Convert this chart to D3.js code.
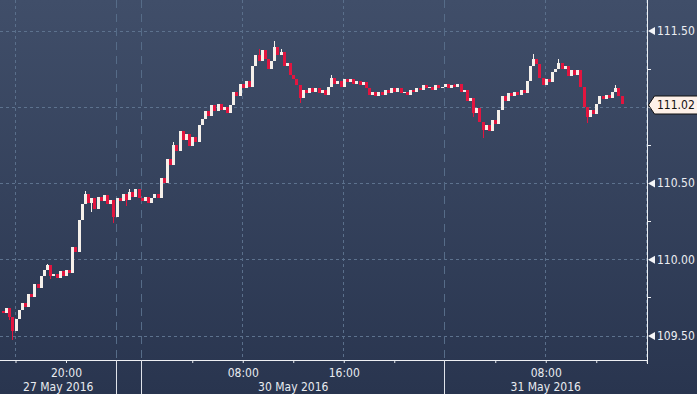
<!DOCTYPE html>
<html>
<head>
<meta charset="utf-8">
<script src="https://cdn.jsdelivr.net/npm/d3@7"></script>
<style>
html, body { margin: 0; padding: 0; background: #2b3854; }
svg { display: block; }
text { font-family: "DejaVu Sans Condensed", "DejaVu Sans", sans-serif; font-stretch: condensed; }
</style>
</head>
<body>
<div id="chart"></div>
<script>
const width = 697, height = 394;

// 15 minute candles, first one at Fri 15:00, open of the next = close of the previous
const firstOpen = 109.66;
const closes = [
	109.645, 109.68, 109.62, 109.53, 109.61, 109.67, 109.71, 109.69, 109.77, 109.75, 109.84, 109.81, 109.89, 109.93, 109.96, 109.89,
	109.90, 109.88, 109.92, 109.89, 109.93, 109.91, 110.08, 110.05, 110.26, 110.36, 110.43, 110.37, 110.40, 110.33, 110.41, 110.38,
	110.42, 110.36, 110.39, 110.28, 110.40, 110.38, 110.43, 110.39, 110.44, 110.41, 110.46, 110.40, 110.38, 110.41, 110.37, 110.40,
	110.43, 110.40, 110.53, 110.50, 110.66, 110.62, 110.75, 110.71, 110.84, 110.78, 110.82, 110.74, 110.80, 110.77, 110.88, 110.92,
	110.97, 110.94, 111.01, 110.97, 111.02, 110.98, 111.00, 110.96, 111.01, 111.10, 111.07, 111.15, 111.12, 111.17, 111.13, 111.27,
	111.34, 111.30, 111.37, 111.31, 111.25, 111.30, 111.39, 111.34, 111.36, 111.27, 111.29, 111.21, 111.18, 111.14, 111.06, 111.11,
	111.09, 111.12, 111.10, 111.12, 111.09, 111.11, 111.08, 111.13, 111.19, 111.15, 111.17, 111.13, 111.18, 111.16, 111.18, 111.15,
	111.17, 111.14, 111.16, 111.12, 111.08, 111.10, 111.07, 111.10, 111.08, 111.11, 111.09, 111.12, 111.10, 111.12, 111.09, 111.10,
	111.08, 111.11, 111.10, 111.12, 111.11, 111.14, 111.12, 111.13, 111.11, 111.14, 111.12, 111.13, 111.15, 111.12, 111.14, 111.13,
	111.15, 111.10, 111.11, 111.04, 111.06, 110.96, 110.99, 110.90, 110.85, 110.88, 110.84, 110.91, 110.89, 110.98, 111.07, 111.04,
	111.09, 111.07, 111.10, 111.08, 111.11, 111.09, 111.17, 111.27, 111.31, 111.28, 111.19, 111.14, 111.18, 111.16, 111.23, 111.25,
	111.29, 111.25, 111.27, 111.20, 111.24, 111.21, 111.24, 111.13, 111.00, 110.93, 110.98, 110.95, 111.02, 111.07, 111.05, 111.08,
	111.06, 111.10, 111.12, 111.07, 111.02
];
// wicks that stick out of the bodies: [candle index, price]
const wickHighs = [[14, 109.97], [26, 110.45], [40, 110.46], [54, 110.77], [81, 111.38], [86, 111.434], [88, 111.38], [104, 111.21], [143, 111.15], [168, 111.349], [176, 111.316], [194, 111.14]];
const wickLows = [[2, 109.60], [3, 109.47], [15, 109.87], [28, 110.31], [35, 110.237], [39, 110.35], [94, 111.026], [149, 110.93], [152, 110.796], [185, 110.895]];
const startHour = -1, stepHour = 0.25;
const lastPrice = 111.02;

const priceTicks = [109.5, 110, 110.5, 111, 111.5];
const priceLabels = ["109.50", "110.00", "110.50", "", "111.50"];
const minorPriceTicks = [109.75, 110.25, 110.75, 111.25];
// trading hours counted from Fri 16:00, the weekend kept as 2 hours
const tickHours = [0, 4, 14, 18, 22, 26, 30, 38, 42, 46, 50];
const labelHours = [4, 18, 26, 42];
const timeLabels = ["20:00", "08:00", "16:00", "08:00"];
const gridHours = [0, 18, 26, 42];
const dayBounds = [8, 10, 34];
const dayLabels = ["27 May 2016", "30 May 2016", "31 May 2016"];
const daySpans = [[-1.23, 8], [10, 34], [34, 50]];

const plotBottom = 360, plotRight = 647;

const x = d3.scaleLinear().domain([0, 50]).range([15.5, 646.75]);
const y = d3.scaleLinear().domain([109.5, 111.5]).range([335.5, 30.5]);

const svg = d3.select("#chart")
	.append("svg")
	.attr("width", width)
	.attr("height", height);

// background
const grad = svg.append("defs")
	.append("linearGradient")
		.attr("id", "bg")
		.attr("x1", 0).attr("y1", 0)
		.attr("x2", 0).attr("y2", 1);
grad.append("stop").attr("offset", "0%").attr("stop-color", "#404e69");
grad.append("stop").attr("offset", "100%").attr("stop-color", "#29354f");

svg.append("rect")
	.attr("width", width)
	.attr("height", height)
	.attr("fill", "url(#bg)");

// grid
const grid = svg.append("g")
	.attr("class", "grid")
	.attr("shape-rendering", "crispEdges");

grid.selectAll("line.h")
	.data(priceTicks)
	.join("line")
		.attr("class", "h")
		.attr("x1", 0)
		.attr("x2", plotRight)
		.attr("y1", d => Math.round(y(d)) + 0.5)
		.attr("y2", d => Math.round(y(d)) + 0.5)
		.attr("stroke", "#5d728e")
		.attr("stroke-dasharray", "3,3");

grid.selectAll("line.v")
	.data(gridHours.concat([50]))
	.join("line")
		.attr("class", "v")
		.attr("x1", d => Math.round(x(d)) - 0.5)
		.attr("x2", d => Math.round(x(d)) - 0.5)
		.attr("y1", 0)
		.attr("y2", plotBottom)
		.attr("stroke", "#5a6f8b")
		.attr("stroke-dasharray", "3,3");

grid.selectAll("line.day")
	.data(dayBounds)
	.join("line")
		.attr("class", "day")
		.attr("x1", d => Math.round(x(d)) - 0.5)
		.attr("x2", d => Math.round(x(d)) - 0.5)
		.attr("y1", 0)
		.attr("y2", plotBottom)
		.attr("stroke", "#566c88")
		.attr("stroke-dasharray", "8,6");

// candles
const candles = closes.map((c, i) => {
	const o = i ? closes[i - 1] : firstOpen;
	return { h: startHour + i * stepHour, o: o, c: c, hi: Math.max(o, c), lo: Math.min(o, c) };
});
wickHighs.forEach(([i, p]) => { candles[i].hi = Math.max(candles[i].hi, p); });
wickLows.forEach(([i, p]) => { candles[i].lo = Math.min(candles[i].lo, p); });

const gCandles = svg.append("g")
	.attr("class", "candles")
	.attr("shape-rendering", "crispEdges");

const candle = gCandles.selectAll("g")
	.data(candles)
	.join("g")
		.attr("fill", d => d.c >= d.o ? "#f5f0ea" : "#e2153f");

candle.append("rect")
	.attr("x", d => Math.round(x(d.h)))
	.attr("width", 1)
	.attr("y", d => Math.round(y(d.hi)))
	.attr("height", d => Math.max(1, Math.round(y(d.lo)) - Math.round(y(d.hi))));

candle.append("rect")
	.attr("x", d => Math.round(x(d.h)) - 1)
	.attr("width", 3)
	.attr("y", d => Math.round(y(Math.max(d.o, d.c))))
	.attr("height", d => Math.max(1, Math.round(y(Math.min(d.o, d.c))) - Math.round(y(Math.max(d.o, d.c)))));

// bottom axis
const xAxis = svg.append("g")
	.attr("transform", "translate(0," + plotBottom + ")")
	.call(d3.axisBottom(x)
		.tickValues(tickHours)
		.tickSize(3)
		.tickSizeOuter(0)
		.tickPadding(5)
		.tickFormat(d => {
			const k = labelHours.indexOf(d);
			return k < 0 ? "" : timeLabels[k];
		}));

xAxis.select(".domain").remove();
xAxis.selectAll(".tick line").attr("stroke", "#e8ebf0");
xAxis.selectAll(".tick text")
	.attr("fill", "#e8ebf0")
	.attr("font-size", 12)
	.attr("font-family", null);

svg.append("line")
	.attr("x1", 0)
	.attr("x2", plotRight + 0.5)
	.attr("y1", plotBottom + 0.5)
	.attr("y2", plotBottom + 0.5)
	.attr("stroke", "#eef0f4");

svg.selectAll("line.daysep")
	.data(dayBounds)
	.join("line")
		.attr("class", "daysep")
		.attr("x1", d => Math.round(x(d)) - 0.5)
		.attr("x2", d => Math.round(x(d)) - 0.5)
		.attr("y1", plotBottom)
		.attr("y2", height)
		.attr("stroke", "#dfe3ea");

svg.selectAll("text.day")
	.data(dayLabels)
	.join("text")
		.attr("class", "day")
		.attr("x", (d, i) => Math.max(0, (x(daySpans[i][0]) + x(daySpans[i][1])) / 2))
		.attr("y", 391)
		.attr("text-anchor", "middle")
		.attr("fill", "#e8ebf0")
		.attr("font-size", 12)
		.text(d => d);

// right axis
svg.append("line")
	.attr("x1", plotRight + 0.5)
	.attr("x2", plotRight + 0.5)
	.attr("y1", 0)
	.attr("y2", plotBottom + 4)
	.attr("stroke", "#eef0f4");

const yMinor = svg.append("g")
	.attr("transform", "translate(" + plotRight + ",0)")
	.attr("shape-rendering", "crispEdges")
	.call(d3.axisRight(y).tickValues(minorPriceTicks).tickSize(4).tickFormat(""));
yMinor.select(".domain").remove();
yMinor.selectAll(".tick line").attr("stroke", "#eef0f4");

const yAxis = svg.append("g")
	.attr("transform", "translate(" + plotRight + ",0)")
	.call(d3.axisRight(y)
		.tickValues(priceTicks)
		.tickSize(0)
		.tickPadding(10)
		.tickFormat((d, i) => priceLabels[i]));
yAxis.select(".domain").remove();
yAxis.selectAll(".tick text")
	.attr("fill", "#eceef2")
	.attr("font-size", 12)
	.attr("font-family", null);
yAxis.selectAll(".tick")
	.append("path")
		.attr("d", "M1,0 L8,-4 L8,4 Z")
		.attr("fill", "#f4f5f8");

// last price tag
const ty = Math.round(y(lastPrice)) + 1;
svg.append("path")
	.attr("d", "M648.5," + ty + " L654.5," + (ty - 9) + " H699 V" + (ty + 9) + " H654.5 Z")
	.attr("fill", "#fdf0e8")
	.attr("stroke", "#111");

svg.append("text")
	.attr("x", 657)
	.attr("y", ty + 4)
	.attr("fill", "#111")
	.attr("font-size", 12)
	.text(d3.format(".2f")(lastPrice));
</script>
</body>
</html>
